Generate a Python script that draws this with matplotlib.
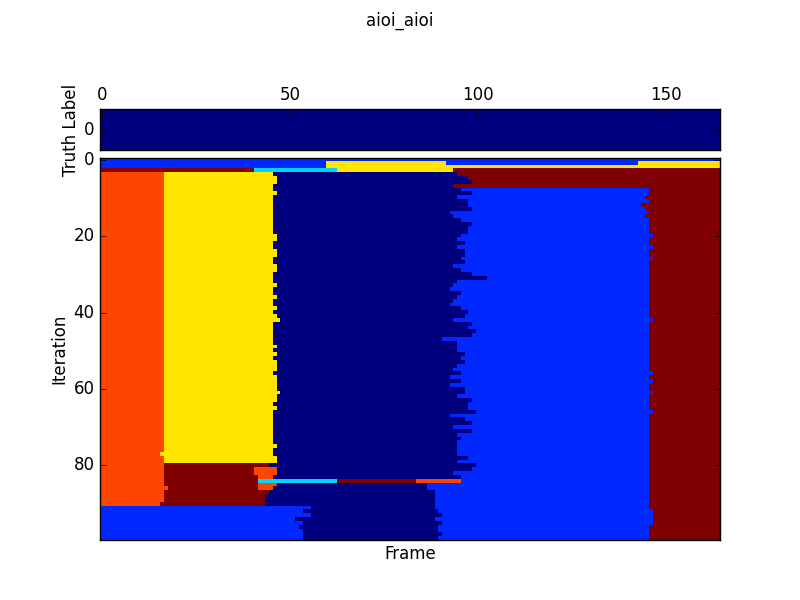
import matplotlib
matplotlib.use("Agg")
import matplotlib.pyplot as plt
import numpy as np

plt.style.use('classic')
plt.rcParams['font.family'] = ['DejaVu Sans']

n_iter = 100
n_frames = 165

# labels as they show up in jet with vmax=6
NAVY, BLUE, CYAN, YELLOW, ORANGE, DARKRED = 0, 1, 2, 4, 5, 6

truth = [0] * n_frames

# first four iterations, (label, end frame) runs
head_rows = [
    [(BLUE, 165)],
    [(BLUE, 60), (YELLOW, 92), (BLUE, 143), (YELLOW, 165)],
    [(BLUE, 60), (YELLOW, 165)],
    [(DARKRED, 41), (CYAN, 63), (YELLOW, 94), (DARKRED, 165)],
]

# iterations 4..90, end of first orange block
orange_end = [17] * 87
orange_end[77 - 4] = 16
orange_end[86 - 4] = 18
orange_end[90 - 4] = 16

# iterations 4..79, yellow/navy edge
yellow_end = [46, 47, 47, 46, 46, 47, 46, 46, 46, 46, 46, 46, 46, 46, 46, 46,
              47, 47, 46, 46, 47, 47, 46, 46, 47, 47, 46, 46, 46, 47, 46, 46,
              47, 46, 46, 47, 46, 47, 48, 46, 46, 46, 46, 46, 46, 47, 46, 47,
              46, 47, 47, 47, 46, 47, 47, 47, 47, 48, 47, 47, 46, 47, 46, 46,
              46, 46, 46, 46, 46, 46, 46, 47, 46, 46, 47, 47]

# iterations 80..90, where the dark red block stops and what comes after it
darkred_end = [45, 41, 41, 42, 42, 42, 42, 45, 44, 44, 44]
orange2_end = [0, 47, 47, 46, 0, 47, 46, 0, 0, 0, 0]

# iteration 84 has the long strip in the middle
strip_84 = [(CYAN, 63), (DARKRED, 84), (ORANGE, 96)]

# iterations 91..99, first blue block
blue_left_end = [56, 54, 56, 52, 54, 53, 54, 54, 54]

# iterations 4..99, navy/blue edge (navy/dark red for 4..7)
navy_end = [95, 98, 99, 94, 96, 99, 95, 98, 98, 99, 93, 94, 96, 99, 98, 98,
            96, 95, 97, 95, 97, 97, 96, 97, 94, 96, 99, 103, 95, 94, 93, 96,
            95, 94, 93, 96, 98, 97, 94, 99, 98, 100, 99, 91, 95, 95, 95, 97,
            96, 97, 95, 94, 96, 93, 96, 93, 97, 97, 95, 99, 98, 98, 100, 93,
            97, 99, 94, 99, 95, 96, 95, 95, 95, 95, 98, 95, 100, 99, 94, 96,
            96, 87, 87, 89, 89, 89, 89, 89, 90, 91, 89, 91, 90, 90, 91, 90]

# iterations 8..99, blue/dark red edge
blue_end = [146, 146, 145, 146, 144, 145, 146, 145, 146, 146, 146, 146, 147,
            146, 146, 147, 146, 146, 147, 146, 146, 146, 146, 146, 146, 146,
            146, 146, 146, 146, 146, 146, 146, 146, 147, 146, 146, 146, 146,
            146, 146, 146, 146, 146, 146, 146, 146, 146, 147, 146, 147, 146,
            146, 147, 146, 146, 146, 146, 147, 146, 146, 146, 146, 146, 146,
            146, 146, 146, 146, 146, 146, 146, 146, 146, 146, 146, 146, 146,
            146, 146, 146, 146, 146, 146, 147, 147, 147, 147, 146, 146, 146,
            146]

labels = np.full((n_iter, n_frames), DARKRED)

for i, runs in enumerate(head_rows):
    start = 0
    for lab, end in runs:
        labels[i, start:end] = lab
        start = end

for i in range(4, n_iter):
    row = labels[i]
    row[:navy_end[i - 4]] = NAVY
    if i >= 8:
        row[navy_end[i - 4]:blue_end[i - 8]] = BLUE
    if i <= 79:
        row[orange_end[i - 4]:yellow_end[i - 4]] = YELLOW
    elif i <= 90:
        k = i - 80
        row[orange_end[i - 4]:darkred_end[k]] = DARKRED
        if orange2_end[k] > 0:
            row[darkred_end[k]:orange2_end[k]] = ORANGE
    else:
        row[:blue_left_end[i - 91]] = BLUE
    if i <= 90:
        row[:orange_end[i - 4]] = ORANGE

start = darkred_end[84 - 80]
for lab, end in strip_84:
    labels[84, start:end] = lab
    start = end

fig = plt.figure(figsize=(8, 6), dpi=100, facecolor='white')
fig.suptitle('aioi_aioi')

ax1 = fig.add_axes([0.125, 0.75, 0.775, 0.068])
ax1.imshow(np.array(truth)[np.newaxis, :], cmap='jet', vmin=0, vmax=6,
           aspect='auto', interpolation='nearest')
ax1.xaxis.tick_top()
ax1.set_xticks([0, 50, 100, 150])
ax1.set_yticks([0])
ax1.set_ylabel('Truth Label', labelpad=2.8)

ax2 = fig.add_axes([0.125, 0.1, 0.775, 0.637])
# small nudge so the cell edges land on the same pixels
ax2.imshow(labels, cmap='jet', vmin=0, vmax=6, aspect='auto',
           interpolation='nearest', extent=(-0.42, 164.58, 99.5, -0.5))
ax2.set_xlim(-0.5, 164.5)
ax2.set_xticks([])
ax2.set_yticks([0, 20, 40, 60, 80])
ax2.set_xlabel('Frame', labelpad=3.6)
ax2.set_ylabel('Iteration', labelpad=3.6)

fig.savefig('out.png', dpi=100, facecolor='white')
